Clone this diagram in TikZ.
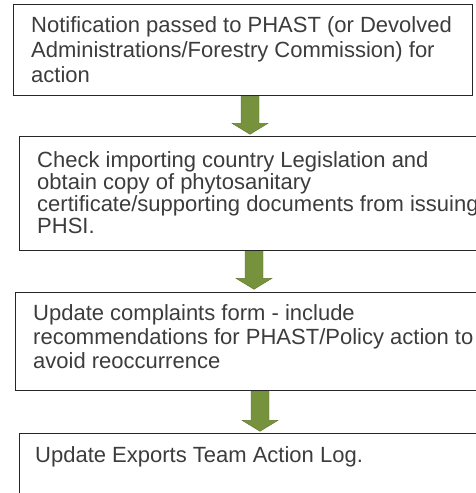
\documentclass[tikz,border=0pt]{standalone}
\usepackage{fontspec}
\setmainfont{Liberation Sans}
\usetikzlibrary{calc}
\definecolor{txt}{HTML}{3C3C3C}
\definecolor{arrowgreen}{HTML}{76923C}
\definecolor{arrowedge}{HTML}{5E7530}
\begin{document}
\begin{tikzpicture}[x=1pt,y=-1pt,
  box/.style={draw=black!85, line width=1.3pt, inner sep=0pt, anchor=north west},
  boxtext/.style={anchor=base west, inner sep=0pt, align=left, text=txt},
  bigarrow/.style={fill=arrowgreen, draw=arrowedge, line width=0.4pt},
  fatarrow/.pic={\draw[bigarrow] (-9,0) -- (9,0) -- (9,#1) -- (18,#1) -- (0,#1+11) -- (-18,#1) -- (-9,#1) -- cycle;}]
\useasboundingbox (0,0) rectangle (476,493);
% boxes
\node[box, minimum width=459pt, minimum height=91pt] (b1) at (13,4) {};
\node[box, minimum width=471pt, minimum height=114pt] (b2) at (19,136) {};
\node[box, minimum width=475pt, minimum height=98pt] (b3) at (15,292) {};
\node[box, minimum width=471pt, minimum height=80pt] (b4) at (19,433) {};
% texts (base anchor = baseline of the last line)
\node[boxtext, font=\fontsize{22}{25}\selectfont] (t1) at (31,82)
  {Notification passed to PHAST (or Devolved\\Administrations/Forestry Commission) for\\action};
\node[boxtext, font=\fontsize{22}{22}\selectfont] (t2) at (37,233)
  {Check importing country Legislation and\\obtain copy of phytosanitary\\certificate/supporting documents from issuing\\PHSI.};
\node[boxtext, font=\fontsize{22}{24}\selectfont] (t3) at (33,368)
  {Update complaints form - include\\recommendations for PHAST/Policy action to\\avoid reoccurrence};
\node[boxtext, font=\fontsize{22}{24}\selectfont] (t4) at (35,462)
  {Update Exports Team Action Log.};
% arrows
\coordinate (c1) at (250,0);
\coordinate (c2) at (254,0);
\coordinate (c3) at (260,0);
\pic at (b1.south -| c1) {fatarrow=27};
\pic at (b2.south -| c2) {fatarrow=27};
\pic at (b3.south -| c3) {fatarrow=29};
\end{tikzpicture}
\end{document}
